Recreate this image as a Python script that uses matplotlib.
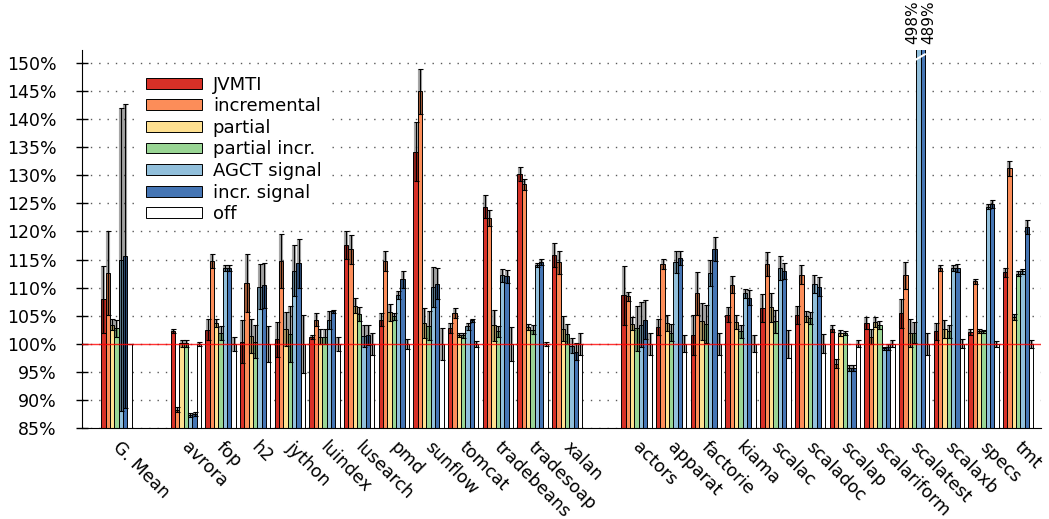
import matplotlib
matplotlib.use('Agg')
import matplotlib.pyplot as plt
import matplotlib.transforms as mtransforms
import numpy as np

# groups: geometric mean, DaCapo, Scala benchmarks
mean_name = ['G. Mean']
dacapo = ['avrora', 'fop', 'h2', 'jython', 'luindex', 'lusearch', 'pmd',
          'sunflow', 'tomcat', 'tradebeans', 'tradesoap', 'xalan']
scala = ['actors', 'apparat', 'factorie', 'kiama', 'scalac', 'scaladoc',
         'scalap', 'scalariform', 'scalatest', 'scalaxb', 'specs', 'tmt']

series = ['JVMTI', 'incremental', 'partial', 'partial incr.',
          'AGCT signal', 'incr. signal', 'off']
colors = ['#d73027', '#fc8d59', '#fee090', '#99d594', '#91bfdb', '#4575b4', 'white']

# overhead in percent (order: G. Mean, dacapo..., scala...)
jvmti = [107.9, 102.3, 102.5, 100.4, 100.8, 101.2, 117.6, 104.3, 134.2, 102.8, 124.4, 130.2, 115.8,
         108.6, 103.0, 101.6, 105.2, 106.3, 105.2, 102.7, 103.7, 105.4, 102.2, 102.1, 112.7]
jvmti_err = [6.0, 0.3, 1.9, 3.8, 3.1, 0.4, 2.5, 1.2, 5.2, 0.9, 2.1, 1.2, 2.2,
             5.3, 1.5, 3.5, 1.4, 2.5, 1.6, 0.6, 1.1, 2.6, 1.5, 0.5, 0.8]
incremental = [112.6, 88.3, 114.7, 110.8, 114.7, 104.3, 116.8, 114.8, 144.9, 105.5, 122.4, 128.4, 114.5,
               108.5, 114.2, 109.0, 110.5, 114.2, 112.3, 96.5, 101.3, 112.2, 113.5, 111.1, 131.2]
incremental_err = [7.5, 0.4, 1.2, 5.2, 4.8, 1.2, 2.6, 1.8, 4.0, 0.9, 1.4, 1.0, 2.1,
                   0.8, 0.9, 3.8, 1.5, 2.1, 1.7, 0.8, 1.3, 2.4, 0.5, 0.5, 1.4]
partial = [103.4, 100.1, 103.7, 101.4, 102.6, 101.3, 106.8, 105.6, 103.7, 101.6, 103.3, 103.0, 102.7,
           103.6, 103.7, 104.0, 103.9, 106.5, 104.9, 101.9, 103.9, 102.0, 102.6, 102.3, 104.8]
partial_err = [1.0, 0.6, 0.7, 3.0, 3.0, 1.3, 1.3, 1.5, 2.7, 0.3, 2.8, 0.5, 2.2,
               1.2, 1.5, 3.3, 1.3, 2.6, 1.0, 0.5, 0.9, 2.5, 1.6, 0.4, 0.5]
partial_incr = [102.8, 100.1, 101.9, 100.4, 101.7, 101.3, 105.3, 104.9, 103.2, 101.5, 102.2, 102.5, 101.7,
                102.8, 102.0, 103.5, 102.2, 104.0, 104.6, 101.9, 103.3, 102.0, 102.2, 102.2, 112.5]
partial_incr_err = [1.5, 0.6, 1.2, 3.0, 5.0, 1.3, 1.2, 0.6, 2.6, 0.4, 1.0, 0.8, 1.8,
                    4.0, 1.5, 3.4, 1.2, 2.0, 1.0, 0.3, 0.7, 1.9, 1.2, 0.3, 0.5]
agct = [115.0, 87.3, 113.5, 110.2, 113.0, 104.3, 101.4, 108.7, 110.1, 103.1, 112.2, 114.0, 99.7,
        103.4, 114.6, 112.6, 109.0, 113.5, 110.7, 95.7, 99.2, 498.0, 113.5, 124.4, 112.9]
agct_err = [27.0, 0.4, 0.5, 4.0, 4.5, 1.6, 2.0, 0.7, 3.5, 0.6, 1.2, 0.4, 1.4,
            4.0, 2.0, 2.3, 0.8, 2.1, 1.6, 0.6, 0.3, 0.0, 0.6, 0.5, 0.5]
incr_signal = [115.6, 87.5, 113.5, 110.4, 114.3, 105.8, 101.6, 111.5, 110.7, 104.2, 112.0, 114.6, 98.6,
               104.3, 115.3, 116.9, 108.2, 112.9, 110.2, 95.7, 99.4, 489.0, 113.5, 124.8, 120.8]
incr_signal_err = [27.0, 0.4, 0.5, 4.0, 4.3, 0.3, 1.8, 1.5, 2.8, 0.3, 1.2, 0.5, 1.5,
                   3.5, 1.2, 2.1, 1.3, 1.4, 1.7, 0.6, 0.5, 0.0, 0.7, 0.7, 1.3]
off = [100.0, 100.0, 100.0, 100.0, 100.0, 100.0, 100.0, 100.0, 100.0, 100.0, 100.0, 100.0, 100.0,
       100.0, 100.0, 100.0, 100.0, 100.0, 100.0, 100.0, 100.0, 100.0, 100.0, 100.0, 100.0]
off_err = [0.0, 0.4, 1.2, 3.2, 5.1, 1.3, 2.0, 0.9, 2.8, 0.5, 3.0, 0.4, 1.9,
           2.0, 1.5, 2.0, 1.5, 2.5, 1.7, 0.6, 0.6, 1.9, 0.8, 0.5, 0.7]

values = [jvmti, incremental, partial, partial_incr, agct, incr_signal, off]
errors = [jvmti_err, incremental_err, partial_err, partial_incr_err, agct_err, incr_signal_err, off_err]

labels = mean_name + dacapo + scala
pos = np.array([0] + list(range(2, 2 + len(dacapo))) + list(range(3 + len(dacapo), 3 + len(dacapo) + len(scala))))

fig = plt.figure(figsize=(10.49, 5.19), dpi=100)
ax = fig.add_axes([0.078, 0.175, 0.914, 0.729])

w = 0.125
for i, (name, vals, err, c) in enumerate(zip(series, values, errors, colors)):
    x = pos + (i - 3) * w
    ax.bar(x, vals, width=w, color=c, edgecolor='black', linewidth=0.7, label=name, zorder=2)
    ax.errorbar(x, vals, yerr=err, fmt='none', ecolor=(0, 0, 0, 0.35), elinewidth=3, capsize=0, zorder=3)
    ax.errorbar(x, vals, yerr=err, fmt='none', ecolor='black', elinewidth=0.8, capsize=1.8,
                capthick=0.8, zorder=4)

ax.axhline(100, color='red', linewidth=1, alpha=0.8, zorder=5)

ax.set_ylim(85, 152.3)
ax.set_xlim(-1.0, 26.65)
yt = np.arange(85, 151, 5)
ax.set_yticks(yt)
ax.set_yticklabels([f'{v}%' for v in yt], fontsize=12.5)
ax.tick_params(axis='y', direction='inout', length=8, width=1, pad=14)
ax.set_xticks(pos)
ax.set_xticklabels(labels, rotation=-45, ha='left', va='top', rotation_mode='anchor', fontsize=12.5)
ax.tick_params(axis='x', length=0, pad=7)
shift = mtransforms.ScaledTranslation(5 / 100, 0, fig.dpi_scale_trans)
for t in ax.get_xticklabels():
    t.set_transform(t.get_transform() + shift)
ax.yaxis.grid(True, color='0.35', linestyle=(0, (1, 5)), linewidth=1)
ax.set_axisbelow(True)
for s in ['top', 'right']:
    ax.spines[s].set_visible(False)

# clipped bars of scalatest
k = labels.index('scalatest')
xa = pos[k] + 1 * w
xb = pos[k] + 2 * w
ax.plot([xa - w / 2, xb + w / 2], [150.6, 151.5], color='white', linewidth=1.5, zorder=6, clip_on=False)
ax.annotate(f'{agct[k]:.0f}%', (xa, 152.3), xytext=(-4, 4), textcoords='offset points',
            rotation=90, ha='center', va='bottom', fontsize=11, annotation_clip=False)
ax.annotate(f'{incr_signal[k]:.0f}%', (xb, 152.3), xytext=(4, 4), textcoords='offset points',
            rotation=90, ha='center', va='bottom', fontsize=11, annotation_clip=False)

leg = ax.legend(loc='upper left', bbox_to_anchor=(0.05, 0.975), fontsize=13, labelspacing=0.2,
                handlelength=3.1, handleheight=0.55, handletextpad=0.6, frameon=True, fancybox=False)
leg.get_frame().set_edgecolor('none')
leg.get_frame().set_alpha(1.0)
leg.set_zorder(10)

plt.savefig('out.png', dpi=100)
